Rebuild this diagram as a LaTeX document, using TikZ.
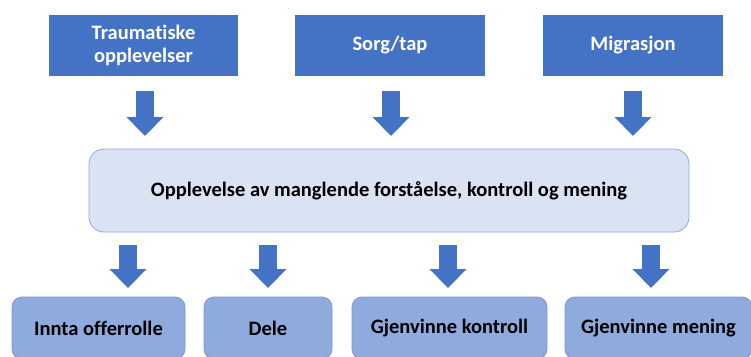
\documentclass[tikz,border=0pt]{standalone}
\usepackage{fontspec}
\setmainfont{Carlito}[Ligatures=CommonOff]
\usetikzlibrary{arrows.meta}
\definecolor{topblue}{HTML}{4472C4}
\definecolor{midfill}{HTML}{DAE3F3}
\definecolor{midline}{HTML}{8FAADC}
\definecolor{botfill}{HTML}{8FAADC}
\definecolor{botline}{HTML}{7A98D2}
\begin{document}
\begin{tikzpicture}[x=1pt,y=-1pt,
  topbox/.style={fill=topblue,draw=none,minimum height=61pt,inner sep=0pt,text=white,font=\fontsize{20.5}{23}\selectfont\bfseries,align=center},
  midbox/.style={fill=midfill,draw=midline,line width=0.8pt,rounded corners=15pt,minimum width=600pt,minimum height=83pt,inner sep=0pt,font=\fontsize{20.5}{23}\selectfont\bfseries},
  botbox/.style={fill=botfill,draw=botline,line width=0.8pt,rounded corners=10pt,minimum height=62pt,inner sep=0pt,font=\fontsize{20.5}{23}\selectfont\bfseries},
  blockarrow/.style={draw=topblue,line width=18pt,line cap=butt,-{Triangle[width=36pt,length=19pt]}}
]
\useasboundingbox (0,0) rectangle (751,356);
\clip (0,0) rectangle (751,356);
\node[topbox,minimum width=189pt] (t1) at (143.5,45.5) {Traumatiske\\opplevelser};
\node[topbox,minimum width=190pt] (t2) at (390,45.5) {Sorg/tap};
\node[topbox,minimum width=180pt] (t3) at (633,45.5) {Migrasjon};
\node[midbox] (m) at (389,190.5) {Opplevelse av manglende forståelse, kontroll og mening};
\node[botbox,minimum width=173pt] (b1) at (98.5,328) {Innta offerrolle};
\node[botbox,minimum width=128pt] (b2) at (268,328) {Dele};
\node[botbox,minimum width=195pt] (b3) at (449.5,328) {Gjenvinne kontroll};
\node[botbox,minimum width=187pt] (b4) at (658.5,328) {Gjenvinne mening};
% top arrows
\coordinate (a1s) at (145,91);  \coordinate (a1e) at (145,136);
\coordinate (a2s) at (391,91);  \coordinate (a2e) at (391,136);
\coordinate (a3s) at (633,91);  \coordinate (a3e) at (633,136);
\draw[blockarrow] (a1s) -- (a1e);
\draw[blockarrow] (a2s) -- (a2e);
\draw[blockarrow] (a3s) -- (a3e);
% bottom arrows
\coordinate (c1s) at (128,245); \coordinate (c1e) at (128,288);
\coordinate (c2s) at (268,245); \coordinate (c2e) at (268,288);
\coordinate (c3s) at (448,245); \coordinate (c3e) at (448,288);
\coordinate (c4s) at (651,245); \coordinate (c4e) at (651,288);
\draw[blockarrow] (c1s) -- (c1e);
\draw[blockarrow] (c2s) -- (c2e);
\draw[blockarrow] (c3s) -- (c3e);
\draw[blockarrow] (c4s) -- (c4e);
\end{tikzpicture}
\end{document}
